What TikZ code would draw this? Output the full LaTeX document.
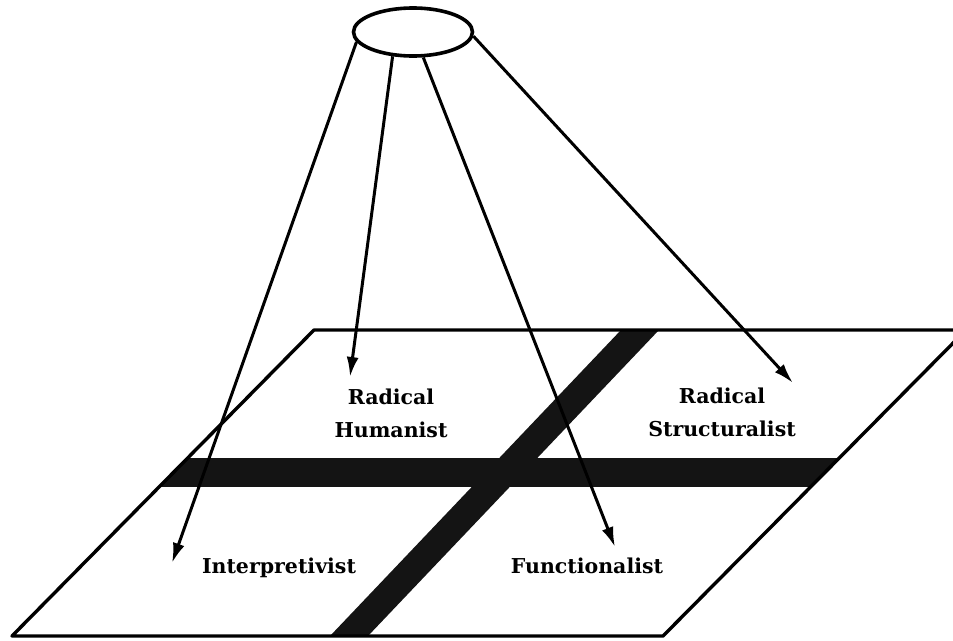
\documentclass[tikz,border=0pt]{standalone}
\usepackage{fontspec}
\setmainfont{DejaVu Serif}
\usetikzlibrary{arrows.meta,shapes.geometric}
\begin{document}
\begin{tikzpicture}[x=1pt,y=-1pt,
  outline/.style={line width=3.4pt, line join=round},
  band/.style={fill=black!92},
  ray/.style={line width=3pt, -{Latex[length=20pt,width=12pt]}},
  lbl/.style={font=\fontsize{20.5}{33}\selectfont\bfseries, align=center, inner sep=0pt}]
\useasboundingbox (0,0) rectangle (953,640);
% quadrant bands clipped to the plane
\begin{scope}
  \clip (314,330) -- (966,330) -- (663,636) -- (12,636) -- cycle;
  \fill[band] (0,458) rectangle (953,487);
  \fill[band] (621,330) -- (659,330) -- (368,636) -- (330,636) -- cycle;
\end{scope}
% plane
\draw[outline] (314,330) -- (966,330) -- (663,636) -- (12,636) -- cycle;
% source ellipse
\node[draw, ellipse, line width=3.6pt, minimum width=119pt, minimum height=48pt, inner sep=0pt] (src) at (413,32) {};
% labels
\node[lbl] (rh) at (391,413) {Radical\\Humanist};
\node[lbl] (rs) at (722,412) {Radical\\Structuralist};
\node[lbl] (ip) at (279,568) {Interpretivist};
\node[lbl] (fn) at (587,566) {Functionalist};
% arrow tips
\coordinate (t1) at (172,563);
\coordinate (t2) at (350,377);
\coordinate (t3) at (615,547);
\coordinate (t4) at (793,383);
\draw[ray] (src.190) -- (t1);
\draw[ray] (src.230) -- (t2);
\draw[ray] (src.292) -- (t3);
\draw[ray] (src.356) -- (t4);
\end{tikzpicture}
\end{document}
